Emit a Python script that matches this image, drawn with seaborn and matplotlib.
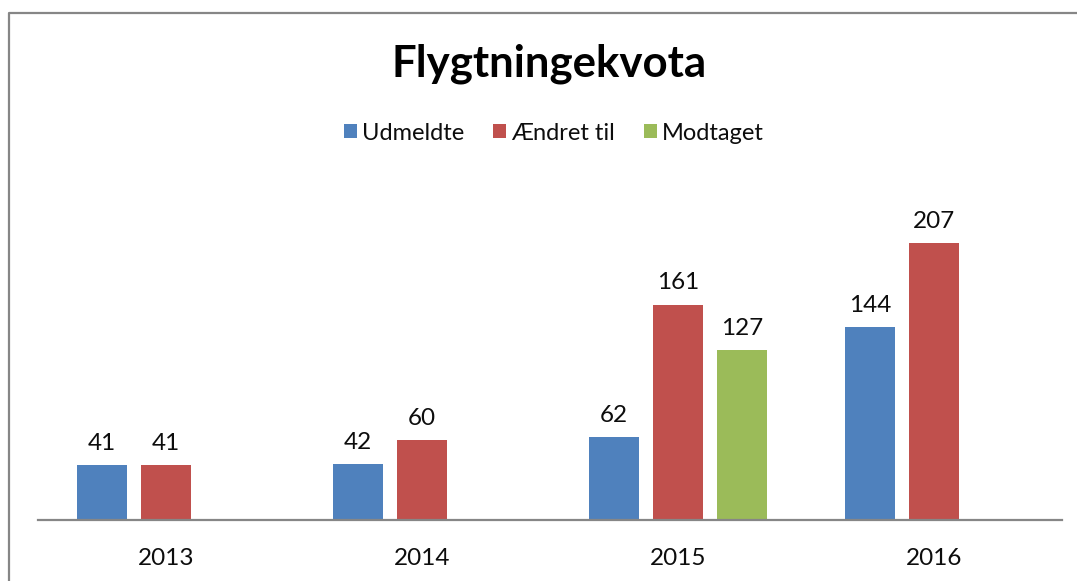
import numpy as np
import pandas as pd
import matplotlib
matplotlib.use("Agg")
import matplotlib.pyplot as plt
from matplotlib.lines import Line2D
import seaborn as sns

# data
years = ["2013", "2014", "2015", "2016"]
series = ["Udmeldte", "Ændret til", "Modtaget"]
udmeldte = [41, 42, 62, 144]
aendret = [41, 60, 161, 207]
modtaget = [np.nan, np.nan, 127, np.nan]
colors = ["#4F81BD", "#C0504D", "#9BBB59"]

df = pd.DataFrame({
    "year": years * 3,
    "series": [series[0]] * 4 + [series[1]] * 4 + [series[2]] * 4,
    "value": udmeldte + aendret + modtaget,
})

sns.set_style("white")
plt.rcParams["font.family"] = ["Lato", "DejaVu Sans"]

fig = plt.figure(figsize=(10.77, 5.81), dpi=100)
ax = fig.add_axes([38 / 1077, 61 / 581, 1024 / 1077, (520 - 185.5) / 581])

sns.barplot(data=df, x="year", y="value", hue="series", hue_order=series,
            palette=colors, width=0.75, gap=0.22, linewidth=0, ax=ax,
            saturation=1, errorbar=None)

for cont in ax.containers:
    ax.bar_label(cont, fmt="%d", padding=8, fontsize=17.5, color="#0d0d0d")

ax.set_ylim(0, 250)
ax.set_xlim(-0.5, 3.5)
ax.set_xlabel("")
ax.set_ylabel("")
ax.set_yticks([])
ax.tick_params(axis="x", length=0, labelsize=17.5, pad=20, colors="#0d0d0d")
for s in ["top", "right", "left"]:
    ax.spines[s].set_visible(False)
ax.spines["bottom"].set_color("#868686")
ax.spines["bottom"].set_linewidth(1.6)

handles, labels = ax.get_legend_handles_labels()
ax.legend_.remove()
fig.legend(handles, labels, loc="center", bbox_to_anchor=(554 / 1077, 1 - 133 / 581),
           ncol=3, frameon=False, fontsize=17, handlelength=0.55, handleheight=0.55,
           handletextpad=0.2, columnspacing=1.25, labelcolor="#0d0d0d")

fig.text(549 / 1077, 1 - 64 / 581, "Flygtningekvota", ha="center", va="center",
         fontsize=31.5, fontweight="bold", color="black")

# chart frame (left and top edges visible in the reference)
fig.add_artist(Line2D([8.5 / 1077, 8.5 / 1077, 1.0], [0.0, 1 - 12.5 / 581, 1 - 12.5 / 581],
                      transform=fig.transFigure, color="#868686", linewidth=1.6))

fig.savefig("out.png", dpi=100)
